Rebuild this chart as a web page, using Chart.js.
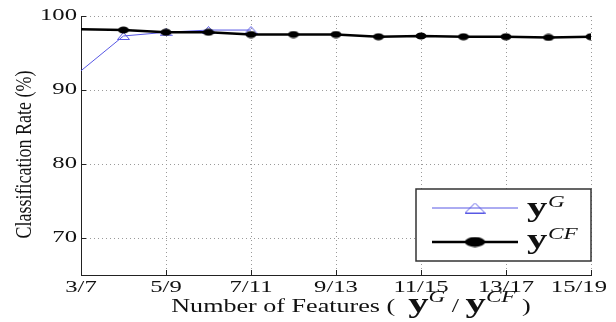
<!DOCTYPE html>
<html><head><meta charset="utf-8">
<script src="https://cdn.jsdelivr.net/npm/chart.js@4.4.1/dist/chart.umd.min.js"></script>
<style>html,body{margin:0;padding:0;background:#fff}canvas{display:block}</style>
</head><body>
<canvas id="c" width="616" height="322"></canvas>
<script>
// ---- data ----
const featureCounts = [3,4,5,6,7,8,9,10,11,12,13,14,15];
const cfRates = [98.2,98.1,97.8,97.8,97.5,97.5,97.5,97.2,97.3,97.2,97.2,97.1,97.2];
const gCounts = [3,4,5,6,7];
const gRates = [92.6,97.3,97.8,98.1,98.1];
const xTickValues = [3,5,7,9,11,13,15];
const xTickLabels = ['3/7','5/9','7/11','9/13','11/15','13/17','15/19'];
const yTickValues = [70,80,90,100];
const seriesNames = ['G','CF'];
const yTitle = 'Classification Rate (%)';
const xTitleParts = ['Number of Features (  ', ' / ', ' )'];

// ---- canvas + horizontally stretched serif text ----
const canvas = document.getElementById('c');
const ctx = canvas.getContext('2d');
let textStretch = 1.45;
const rawFill = ctx.fillText.bind(ctx);
ctx.fillText = function(text, x, y) {
  const s = textStretch;
  const w = ctx.measureText(text).width * s;
  const m = ctx.getTransform();
  let dx = 0;
  if (m.b === 0 && m.c === 0) {
    const align = ctx.textAlign;
    const ax = m.e + x * m.a;
    const left = align === 'center' ? ax - w / 2 : (align === 'right' || align === 'end') ? ax - w : ax;
    const maxR = canvas.width - 9;
    if (left + w > maxR) dx = (maxR - (left + w)) / m.a;
  }
  ctx.save();
  ctx.translate(x + dx, y);
  ctx.scale(s, 1);
  rawFill(text, 0, 0);
  ctx.restore();
};

function makeEllipse(w, h, color) {
  const c = document.createElement('canvas'); c.width = w; c.height = h;
  const g = c.getContext('2d'); g.fillStyle = color;
  g.beginPath(); g.ellipse(w/2, h/2, w/2 - 0.5, h/2 - 0.5, 0, 0, Math.PI*2); g.fill();
  return c;
}
function makeTriangle(w, h, color) {
  const c = document.createElement('canvas'); c.width = w; c.height = h;
  const g = c.getContext('2d'); g.strokeStyle = color; g.lineWidth = 1;
  g.beginPath(); g.moveTo(w/2, 0.5); g.lineTo(w - 0.5, h - 0.5); g.lineTo(0.5, h - 0.5); g.closePath(); g.stroke();
  return c;
}
const BLUE = '#5858e4';
const cfMarker = makeEllipse(12, 8, '#000');
const gMarker = makeTriangle(13, 8, BLUE);
const cfLegMarker = makeEllipse(21, 11, '#000');
const gLegMarker = makeTriangle(21, 11, BLUE);

const SERIF = '"Liberation Serif", "Times New Roman", serif';

const decor = {
  id: 'decor',
  afterDraw(chart) {
    const c = chart.ctx, a = chart.chartArea;
    const xs = chart.scales.x, ys = chart.scales.y;
    // inward tick marks
    c.save();
    c.strokeStyle = '#222'; c.lineWidth = 1;
    yTickValues.forEach(v => { const p = Math.round(ys.getPixelForValue(v)) + 0.5; c.beginPath(); c.moveTo(a.left, p); c.lineTo(a.left + 5, p); c.stroke(); });
    xTickValues.forEach(v => { const p = Math.round(xs.getPixelForValue(v)) + 0.5; c.beginPath(); c.moveTo(p, a.bottom); c.lineTo(p, a.bottom - 5); c.stroke(); });
    c.restore();

    // y title
    c.save();
    textStretch = 1;
    c.fillStyle = '#111';
    c.font = '18px ' + SERIF;
    c.textAlign = 'center'; c.textBaseline = 'alphabetic';
    c.translate(31, (a.top + a.bottom) / 2 + 9);
    c.rotate(-Math.PI / 2);
    c.scale(1, 1.25);
    c.fillText(yTitle, 0, 0);
    c.restore();

    // x title
    textStretch = 1.45;
    c.save();
    c.fillStyle = '#111'; c.textAlign = 'left'; c.textBaseline = 'alphabetic';
    const reg = '18px ' + SERIF, bold = 'bold 28px ' + SERIF, ital = 'italic 16px ' + SERIF;
    const segs = [
      {t: xTitleParts[0], f: reg, dy: 0},
      {t: 'y', f: bold, dy: 0},
      {t: seriesNames[0], f: ital, dy: -10},
      {t: xTitleParts[1], f: reg, dy: 0},
      {t: 'y', f: bold, dy: 0},
      {t: seriesNames[1], f: ital, dy: -10},
      {t: xTitleParts[2], f: reg, dy: 0}
    ];
    let total = 0;
    segs.forEach(s => { c.font = s.f; s.w = c.measureText(s.t).width * textStretch; total += s.w; });
    let x = (a.left + a.right) / 2 + 15 - total / 2;
    const base = 312;
    segs.forEach(s => { c.font = s.f; c.fillText(s.t, x, base + s.dy); x += s.w; });
    c.restore();

    // legend
    c.save();
    const L = 416, T = 189, R = 591, B = 261;
    c.fillStyle = '#fff'; c.fillRect(L, T, R - L, B - T);
    c.strokeStyle = '#333'; c.lineWidth = 1.5; c.strokeRect(L, T, R - L, B - T);
    const rows = [
      {y: 208, color: BLUE, lw: 1, mk: gLegMarker, name: seriesNames[0], tb: 216},
      {y: 242, color: '#000', lw: 2.5, mk: cfLegMarker, name: seriesNames[1], tb: 248}
    ];
    rows.forEach(r => {
      c.strokeStyle = r.color; c.lineWidth = r.lw;
      c.beginPath(); c.moveTo(432, r.y); c.lineTo(518, r.y); c.stroke();
      c.drawImage(r.mk, 475 - r.mk.width / 2, r.y - r.mk.height / 2);
      c.fillStyle = '#111'; c.textAlign = 'left'; c.textBaseline = 'alphabetic';
      c.font = bold; c.fillText('y', 527, r.tb);
      c.font = ital; c.fillText(r.name, 548, r.tb - 9);
    });
    c.restore();
  }
};

new Chart(ctx, {
  type: 'line',
  data: {
    datasets: [
      {
        label: seriesNames[1],
        data: featureCounts.map((x, i) => ({x, y: cfRates[i]})),
        borderColor: '#000', backgroundColor: '#000', borderWidth: 2.5,
        pointStyle: cfMarker,
        pointRadius: featureCounts.map((x, i) => i === 0 ? 0 : 5),
        tension: 0, order: 0
      },
      {
        label: seriesNames[0],
        data: gCounts.map((x, i) => ({x, y: gRates[i]})),
        borderColor: BLUE, backgroundColor: BLUE, borderWidth: 1,
        pointStyle: gMarker,
        pointRadius: gCounts.map((x, i) => i === 0 ? 0 : 5),
        tension: 0, order: 1
      }
    ]
  },
  options: {
    responsive: false,
    animation: false,
    devicePixelRatio: 1,
    layout: {padding: {left: 0, right: 25, top: 16, bottom: 0}},
    plugins: {legend: {display: false}, tooltip: {enabled: false}, title: {display: false}},
    scales: {
      x: {
        type: 'linear', min: 3, max: 15,
        afterBuildTicks: s => { s.ticks = xTickValues.map(v => ({value: v})); },
        ticks: {
          callback: v => { const i = xTickValues.indexOf(v); return i >= 0 ? xTickLabels[i] : ''; },
          font: {family: SERIF, size: 17, lineHeight: 1.2}, color: '#111', padding: 2,
          maxRotation: 0, minRotation: 0, autoSkip: false
        },
        grid: {color: '#9a9a9a', lineWidth: 1, drawTicks: false},
        border: {display: true, color: '#222', width: 1, dash: [1, 3]},
        afterFit: s => { s.height = 47; }
      },
      y: {
        type: 'linear', min: 65, max: 100,
        afterBuildTicks: s => { s.ticks = yTickValues.map(v => ({value: v})); },
        ticks: {
          callback: v => String(v),
          font: {family: SERIF, size: 17, lineHeight: 1.2}, color: '#111', padding: 4
        },
        grid: {color: '#9a9a9a', lineWidth: 1, drawTicks: false},
        border: {display: true, color: '#222', width: 1, dash: [1, 3]},
        afterFit: s => { s.width = 81; }
      }
    }
  },
  plugins: [decor]
});
</script>
</body></html>
